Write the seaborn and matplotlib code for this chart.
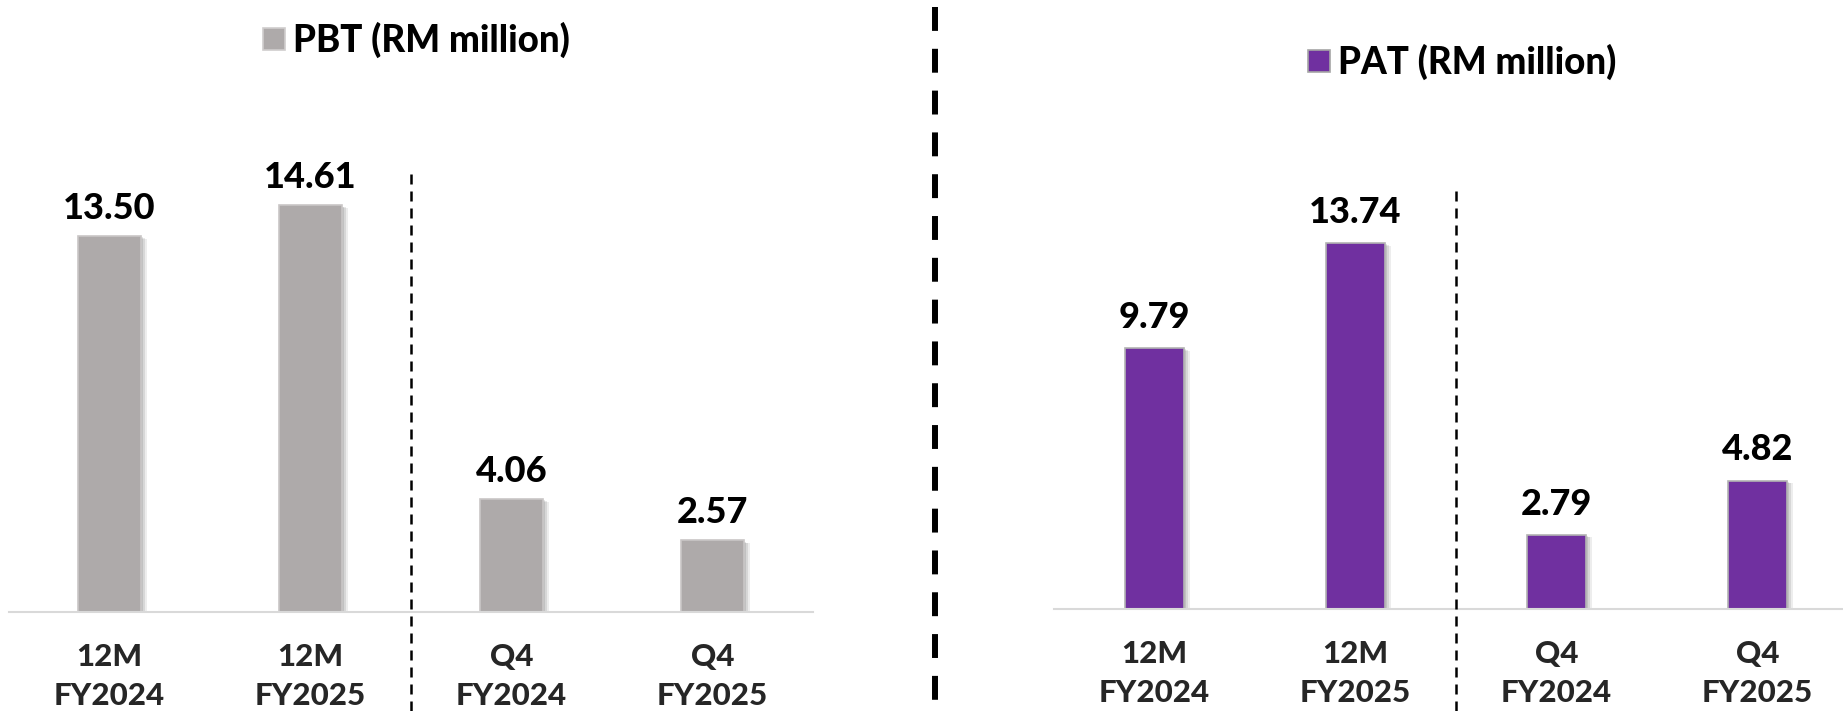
import matplotlib
matplotlib.use("Agg")
import matplotlib.pyplot as plt
import matplotlib.patheffects as pe
from matplotlib.lines import Line2D
from matplotlib.patches import Rectangle
import seaborn as sns
import pandas as pd

# ---- data ----
periods = ["12M\nFY2024", "12M\nFY2025", "Q4\nFY2024", "Q4\nFY2025"]
pbt = [13.50, 14.61, 4.06, 2.57]
pat = [9.79, 13.74, 2.79, 4.82]
pbt_title = "PBT (RM million)"
pat_title = "PAT (RM million)"

GREY = "#AEAAAA"
PURPLE = "#7030A0"
AXIS = "#D9D9D9"
WEIGHT = "black"

sns.set_theme(style="white")
plt.rcParams["font.family"] = ["Lato", "DejaVu Sans"]
plt.rcParams["font.weight"] = WEIGHT

W, H = 1843, 711
fig = plt.figure(figsize=(W / 100, H / 100), dpi=100)


def fx(x):
    return x / W


def fy(y):
    return 1 - y / H


shadow = [
    pe.SimplePatchShadow(offset=(1.5, -1), shadow_rgbFace="black", alpha=0.10),
    pe.SimplePatchShadow(offset=(3, -1.5), shadow_rgbFace="black", alpha=0.09),
    pe.SimplePatchShadow(offset=(4.5, -2), shadow_rgbFace="black", alpha=0.07),
    pe.Normal(),
]


def panel(left_px, base_px, ytop, values, color, edge, width, label_off, sep_top_px):
    ax = fig.add_axes([fx(left_px), fy(base_px), 804 / W, 450 / H])
    df = pd.DataFrame({"period": periods, "value": values})
    sns.barplot(data=df, x="period", y="value", color=color, width=width,
                edgecolor=edge, linewidth=1.2, saturation=1, ax=ax)
    for bar in ax.patches:
        bar.set_path_effects(shadow)
    for i, v in enumerate(values):
        ax.annotate(f"{v:.2f}", xy=(i, v), xytext=(0, label_off),
                    textcoords="offset points", ha="center", va="baseline",
                    fontsize=26, fontweight=WEIGHT, color="black")
    ax.set_xlim(-0.5, 3.5)
    ax.set_ylim(0, ytop)
    ax.set_xlabel("")
    ax.set_ylabel("")
    ax.set_yticks([])
    for s in ["left", "right", "top"]:
        ax.spines[s].set_visible(False)
    ax.spines["bottom"].set_color(AXIS)
    ax.spines["bottom"].set_linewidth(1.5)
    ax.set_xticks(range(len(periods)))
    ax.set_xticklabels(periods, fontsize=22.5, fontweight=WEIGHT, linespacing=1.5)
    ax.tick_params(axis="x", which="major", length=0, pad=22)
    ax.set_xticks([-0.5, 0.5, 1.5, 2.5, 3.5], minor=True)
    ax.tick_params(axis="x", which="minor", length=7.5, width=1.5,
                   color=AXIS, direction="out")
    # dashed divider between annual and quarterly figures
    ax.axvline(1.5, ymin=(base_px - H) / 450, ymax=(base_px - sep_top_px) / 450,
               color="black", linewidth=1.8, dashes=(4, 2.8), clip_on=False,
               zorder=5)
    return ax


panel(9, 612, 450 / 27.85, pbt, GREY, "#C9C6C6", 0.315, 12.5, 167)
panel(1054, 609, 450 / 26.65, pat, PURPLE, "#B3B3B3", 0.295, 14.5, 188)

# heavy divider between the two panels
fig.add_artist(Line2D([fx(935), fx(935)], [fy(7), fy(H)], transform=fig.transFigure,
                      color="black", linewidth=4.3, dashes=(4.0, 3.0),
                      solid_capstyle="butt", dash_capstyle="butt"))

# legend keys
for (x0, y0, color, edge, text) in [
    (263, 28, GREY, "#D0CDCD", pbt_title),
    (1308, 50, PURPLE, "#A6A6A6", pat_title),
]:
    fig.add_artist(Rectangle((fx(x0), fy(y0 + 22)), 22 / W, 22 / H,
                             transform=fig.transFigure, facecolor=color,
                             edgecolor=edge, linewidth=1.2))
    fig.text(fx(x0 + 30), fy(y0 + 12), text, fontsize=26.5, fontweight=WEIGHT,
             ha="left", va="center", color="black")

fig.savefig("out.png", dpi=100, facecolor="white")
